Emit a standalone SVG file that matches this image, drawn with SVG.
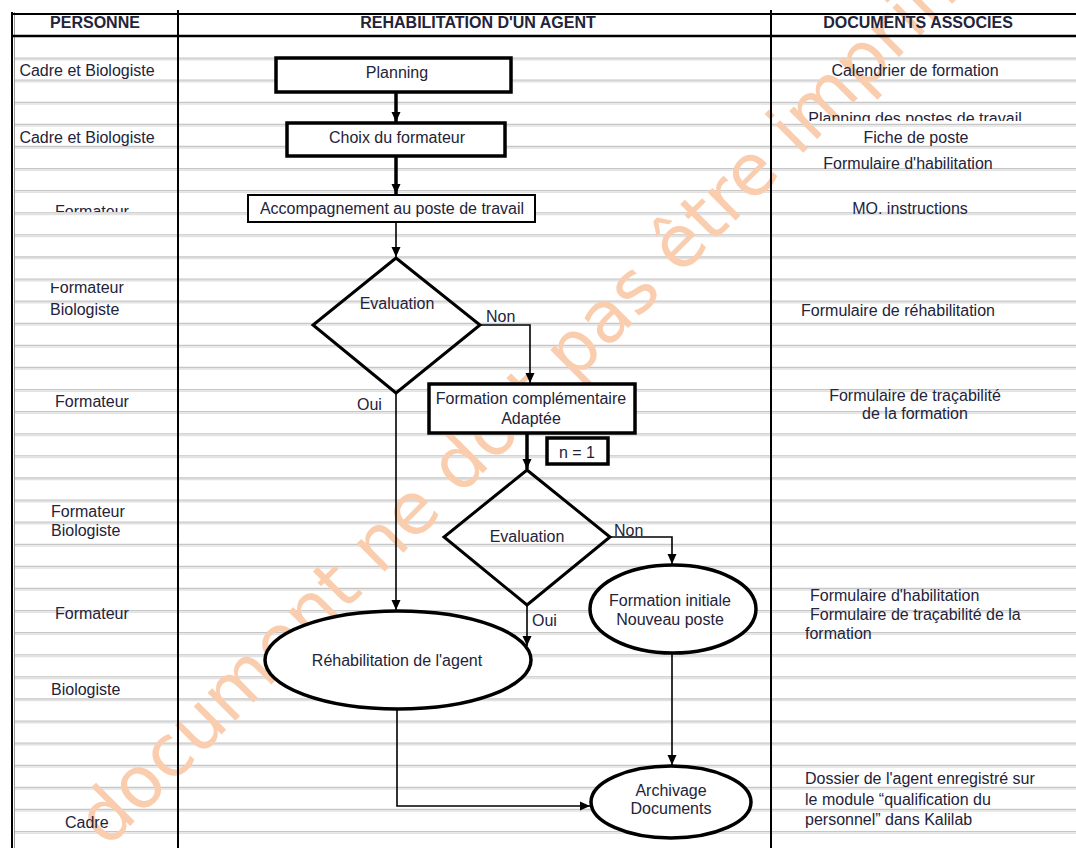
<svg xmlns="http://www.w3.org/2000/svg" width="1076" height="848" viewBox="0 0 1076 848">
<style>
text{font-family:"Liberation Sans",Arial,sans-serif;font-size:16px;fill:#23233a}
.h{font-weight:bold}
.m{text-anchor:middle}
.box{fill:#fff;stroke:#000;stroke-width:3.5}
.thin{fill:#fff;stroke:#000;stroke-width:2}
.dia{fill:none;stroke:#000;stroke-width:3}
.ell{fill:#fff;stroke:#000;stroke-width:3.5}
.c{fill:none;stroke:#000;stroke-width:1.6}
.ct{fill:none;stroke:#000;stroke-width:3.5}
.wm{font-family:"DejaVu Sans",sans-serif;font-size:72px;fill:#f9cdad}
</style>
<defs>
<marker id="ah" markerUnits="userSpaceOnUse" markerWidth="10" markerHeight="10" refX="10" refY="5" orient="auto"><path d="M0,0.5 L10,5 L0,9.5 z" fill="#000"/></marker>
<clipPath id="clipF1"><rect x="40" y="198" width="120" height="14"/></clipPath>
<clipPath id="clipF2"><rect x="40" y="283" width="120" height="14"/></clipPath>
<clipPath id="clipP"><rect x="780" y="100" width="280" height="21"/></clipPath>
</defs>
<rect width="1076" height="848" fill="#fff"/>
<g id="rules" fill="none">
<path stroke="#c6c6c6" stroke-width="1.3" d="M14,58.1H1076M14,80.2H1076M14,102.3H1076M14,124.4H1076M14,146.5H1076M14,168.6H1076M14,190.7H1076M14,212.8H1076M14,234.9H1076M14,257H1076M14,279.1H1076M14,301.2H1076M14,323.3H1076M14,345.4H1076M14,367.5H1076M14,389.6H1076M14,411.7H1076M14,433.8H1076M14,455.9H1076M14,478H1076M14,500.1H1076M14,522.2H1076M14,544.3H1076M14,566.4H1076M14,588.5H1076M14,610.6H1076M14,632.7H1076M14,654.8H1076M14,676.9H1076M14,699H1076M14,721.1H1076M14,743.2H1076M14,765.3H1076M14,787.4H1076M14,809.5H1076M14,831.6H1076"/>
<path stroke="#e2e2e2" stroke-width="1.5" transform="translate(0,1.6)" d="M14,58.1H1076M14,80.2H1076M14,102.3H1076M14,124.4H1076M14,146.5H1076M14,168.6H1076M14,190.7H1076M14,212.8H1076M14,234.9H1076M14,257H1076M14,279.1H1076M14,301.2H1076M14,323.3H1076M14,345.4H1076M14,367.5H1076M14,389.6H1076M14,411.7H1076M14,433.8H1076M14,455.9H1076M14,478H1076M14,500.1H1076M14,522.2H1076M14,544.3H1076M14,566.4H1076M14,588.5H1076M14,610.6H1076M14,632.7H1076M14,654.8H1076M14,676.9H1076M14,699H1076M14,721.1H1076M14,743.2H1076M14,765.3H1076M14,787.4H1076M14,809.5H1076M14,831.6H1076"/>
</g>
<text class="wm" transform="translate(107,849) rotate(-45)">document ne doit pas être imprimé</text>
<g id="table" fill="none" stroke="#000">
<path stroke-width="2" d="M12,12V848M178,10V848M771,10V848"/>
<path stroke="#999" stroke-width="1" d="M14.5,12V848"/>
<path stroke-width="2" d="M12,14H1076"/>
<path stroke-width="2.5" d="M12,36H1076"/>
</g>
<g id="headers">
<text class="h m" x="95" y="28">PERSONNE</text>
<text class="h m" x="478" y="28">REHABILITATION D'UN AGENT</text>
<text class="h m" x="918" y="28">DOCUMENTS ASSOCIES</text>
</g>
<g id="personne">
<text class="m" x="87" y="76">Cadre et Biologiste</text>
<text class="m" x="87" y="143">Cadre et Biologiste</text>
<text class="m" x="92" y="217" clip-path="url(#clipF1)">Formateur</text>
<text x="50" y="293" clip-path="url(#clipF2)">Formateur</text>
<text x="50" y="315">Biologiste</text>
<text class="m" x="92" y="407">Formateur</text>
<text x="51" y="517">Formateur</text>
<text x="51" y="536">Biologiste</text>
<text x="55" y="619">Formateur</text>
<text x="51" y="695">Biologiste</text>
<text x="65" y="828">Cadre</text>
</g>
<g id="documents">
<text class="m" x="915" y="76">Calendrier de formation</text>
<text class="m" x="915" y="124" clip-path="url(#clipP)">Planning des postes de travail</text>
<text class="m" x="916" y="143">Fiche de poste</text>
<text class="m" x="908" y="169">Formulaire d'habilitation</text>
<text class="m" x="910" y="214">MO. instructions</text>
<text class="m" x="898" y="316">Formulaire de réhabilitation</text>
<text class="m" x="915" y="401">Formulaire de traçabilité</text>
<text class="m" x="915" y="419">de la formation</text>
<text x="810" y="601">Formulaire d'habilitation</text>
<text x="810" y="620">Formulaire de traçabilité de la</text>
<text x="805" y="639">formation</text>
<text x="805" y="784">Dossier de l'agent enregistré sur</text>
<text x="805" y="805">le module “qualification du</text>
<text x="805" y="825">personnel” dans Kalilab</text>
</g>
<g id="connectors">
<path class="ct" d="M396,92V122" marker-end="url(#ah)"/>
<path class="ct" d="M396,157V194" marker-end="url(#ah)"/>
<path class="c" stroke-width="2" d="M396,222V257" marker-end="url(#ah)"/>
<path class="c" d="M480,325H530V383" marker-end="url(#ah)"/>
<path class="c" d="M396,393V610" marker-end="url(#ah)"/>
<path class="ct" stroke-width="3" d="M527,433V469" marker-end="url(#ah)"/>
<path class="c" d="M610,537H672V564" marker-end="url(#ah)"/>
<path class="c" d="M527,605V646" marker-end="url(#ah)"/>
<path class="c" d="M672,653V765" marker-end="url(#ah)"/>
<path class="c" stroke="#333" stroke-width="2.2" d="M397,709V806H590" marker-end="url(#ah)"/>
<text x="486" y="322">Non</text>
<text x="357" y="410">Oui</text>
<text x="614" y="536">Non</text>
<text x="532" y="626">Oui</text>
</g>
<g id="n-planning"><rect class="box" x="276" y="58" width="235" height="34"/><text class="m" x="397" y="78">Planning</text></g>
<g id="n-choix"><rect class="box" x="287" y="123" width="218" height="33"/><text class="m" x="397" y="143">Choix du formateur</text></g>
<g id="n-accomp"><rect class="thin" x="248" y="195" width="287" height="27"/><text class="m" x="392" y="214">Accompagnement au poste de travail</text></g>
<g id="n-eval1"><path class="dia" d="M396,258L480,325L396,393L313,325Z"/><text class="m" x="397" y="309">Evaluation</text></g>
<g id="n-formcomp"><rect class="box" x="429" y="384" width="206" height="49"/><text class="m" x="531" y="404">Formation complémentaire</text><text class="m" x="531" y="424">Adaptée</text></g>
<g id="n-n1"><rect class="box" stroke-width="3" x="547" y="438" width="61" height="26"/><text class="m" x="577" y="458">n = 1</text></g>
<g id="n-eval2"><path class="dia" d="M527,470L610,537L527,605L444,537Z"/><text class="m" x="527" y="542">Evaluation</text></g>
<g id="n-rehab"><ellipse class="ell" stroke-width="4" cx="398" cy="660" rx="133" ry="49"/><text class="m" x="397" y="666">Réhabilitation de l'agent</text></g>
<g id="n-forminit"><ellipse class="ell" stroke-width="3" cx="673" cy="609" rx="83" ry="44"/><text class="m" x="670" y="606">Formation initiale</text><text class="m" x="670" y="625">Nouveau poste</text></g>
<g id="n-archiv"><ellipse class="ell" stroke-width="3" cx="671" cy="802" rx="80" ry="36"/><text class="m" x="671" y="796">Archivage</text><text class="m" x="671" y="814">Documents</text></g>
</svg>
